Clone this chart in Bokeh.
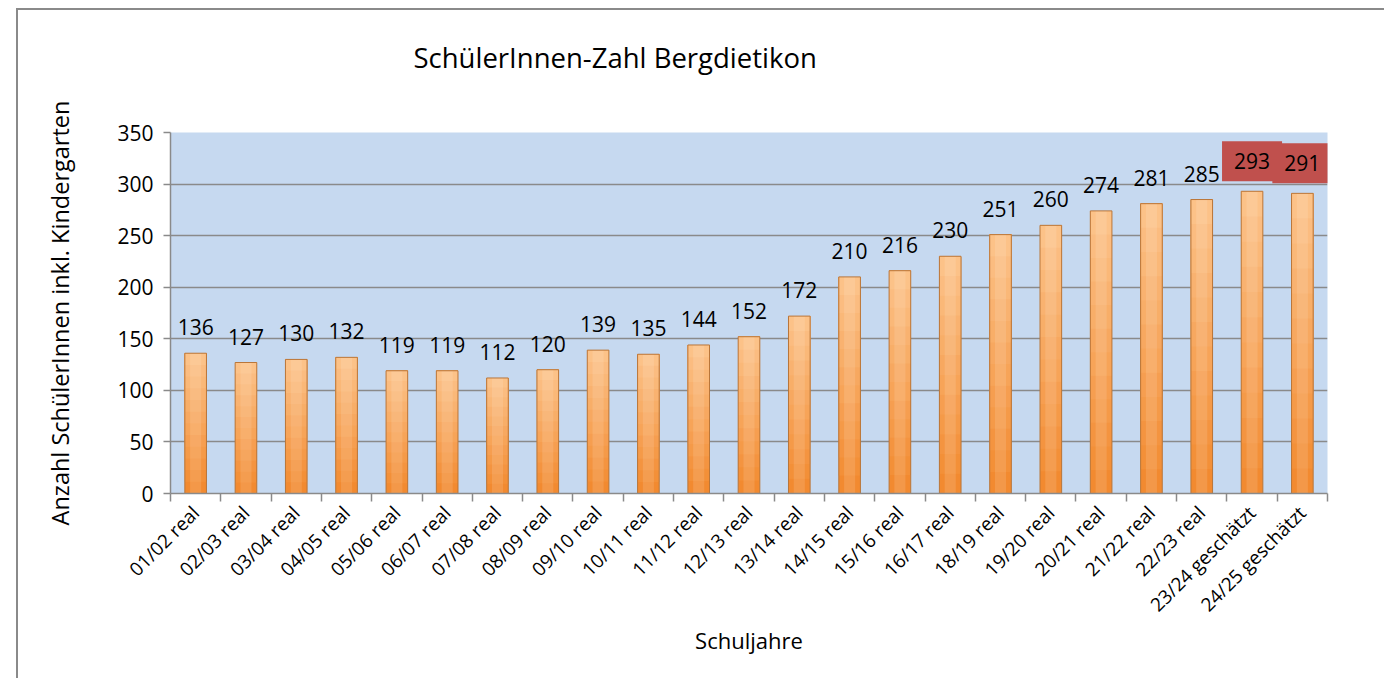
import numpy as np
from bokeh.plotting import figure
from bokeh.models import (ColumnDataSource, Range1d, FixedTicker, LabelSet, Label, Title)
from bokeh.core.properties import value
from bokeh.embed import file_html
from bokeh.resources import INLINE

years = ["01/02 real", "02/03 real", "03/04 real", "04/05 real", "05/06 real",
         "06/07 real", "07/08 real", "08/09 real", "09/10 real", "10/11 real",
         "11/12 real", "12/13 real", "13/14 real", "14/15 real", "15/16 real",
         "16/17 real", "18/19 real", "19/20 real", "20/21 real", "21/22 real",
         "22/23 real", "23/24 geschätzt", "24/25 geschätzt"]
students = [136, 127, 130, 132, 119, 119, 112, 120, 139, 135, 144, 152, 172,
            210, 216, 230, 251, 260, 274, 281, 285, 293, 291]
estimated = [False] * 21 + [True, True]
y_ticks = [0, 50, 100, 150, 200, 250, 300, 350]

FONT = "Open Sans"
GRAY = "#8a8a8a"

n = len(years)
xpos = np.arange(n) + 0.5
vals = np.array(students, dtype=float)

p = figure(width=1368, height=670, output_backend="svg", toolbar_location=None,
           x_range=Range1d(0, n), y_range=Range1d(0, 350),
           min_border_left=152, min_border_right=59, min_border_top=122,
           min_border_bottom=187)
p.styles = {"margin-left": "18px", "margin-top": "10px",
            "box-shadow": "-2px -2px 0 0 #8a8a8a"}
p.background_fill_color = "#c6d9f0"
p.border_fill_color = "white"
p.outline_line_color = None

# spacer between frame and title (keeps the title higher up)
p.add_layout(Title(text=" ", text_font_size="10px", standoff=13), "above")

# title
p.title.text = "SchülerInnen-Zahl Bergdietikon"
p.title.text_font = FONT
p.title.text_font_size = "27.5px"
p.title.text_font_style = "normal"
p.title.text_color = "black"
p.title.align = "left"
p.title.vertical_align = "top"
p.title.offset = 243
p.title.standoff = 57

# bars with vertical gradient (overlapping layers to avoid seams)
top_c = np.array([0xfc, 0xc4, 0x8c])
bot_c = np.array([0xf2, 0x88, 0x2c])
nseg = 12
for k in range(nseg):
    t = (k + 0.5) / nseg
    c = bot_c + (top_c - bot_c) * t
    col = "#%02x%02x%02x" % tuple(int(round(v)) for v in c)
    p.vbar(x=xpos, bottom=vals * k / nseg, top=vals,
           width=0.43, fill_color=col, line_color=None)
p.vbar(x=xpos, bottom=0, top=vals, width=0.22, fill_color="#ffffff",
       fill_alpha=0.12, line_color=None)
p.vbar(x=xpos, bottom=0, top=vals, width=0.43, fill_color=None,
       line_color="#b9763a", line_width=1)

# data labels
real_src = ColumnDataSource(dict(x=[x for x, e in zip(xpos, estimated) if not e],
                                 y=[v for v, e in zip(students, estimated) if not e],
                                 t=[str(v) for v, e in zip(students, estimated) if not e]))
p.add_layout(LabelSet(x="x", y="y", text="t", source=real_src,
                      text_align="center", text_baseline="alphabetic",
                      y_offset=18, text_font=value(FONT), text_font_size=value("21px"),
                      text_color="black"))
for x, v, e in zip(xpos, students, estimated):
    if e:
        p.add_layout(Label(x=x, y=v, text=str(v), text_align="center",
                           text_baseline="alphabetic", y_offset=30,
                           text_font=FONT, text_font_size="21px",
                           text_color="black", background_fill_color="#c0504d",
                           padding=12))

# axes
p.xgrid.grid_line_color = None
p.ygrid.grid_line_color = GRAY
p.ygrid.grid_line_width = 1.5
p.ygrid.ticker = FixedTicker(ticks=y_ticks)

p.yaxis.ticker = FixedTicker(ticks=y_ticks)
p.yaxis.axis_label = "Anzahl SchülerInnen inkl. Kindergarten"
p.yaxis.axis_label_text_font = FONT
p.yaxis.axis_label_text_font_size = "23.5px"
p.yaxis.axis_label_text_font_style = "normal"
p.yaxis.axis_label_text_color = "black"
p.yaxis.axis_label_standoff = 38
p.yaxis.major_label_text_font = FONT
p.yaxis.major_label_text_font_size = "21px"
p.yaxis.major_label_text_color = "black"
p.yaxis.major_label_standoff = 10
p.yaxis.axis_line_color = GRAY
p.yaxis.axis_line_width = 1.5
p.yaxis.major_tick_line_color = GRAY
p.yaxis.major_tick_line_width = 1.5
p.yaxis.major_tick_out = 7
p.yaxis.major_tick_in = 0
p.yaxis.minor_tick_line_color = None

p.xaxis.ticker = FixedTicker(ticks=list(xpos), minor_ticks=list(range(n + 1)))
p.xaxis.major_label_overrides = {float(x): lab for x, lab in zip(xpos, years)}
p.xaxis.major_label_orientation = np.pi / 4
p.xaxis.major_label_text_font = FONT
p.xaxis.major_label_text_font_size = "19px"
p.xaxis.major_label_text_color = "black"
p.xaxis.major_label_standoff = 8
p.xaxis.major_tick_line_color = None
p.xaxis.minor_tick_line_color = GRAY
p.xaxis.minor_tick_line_width = 1.5
p.xaxis.minor_tick_out = 8
p.xaxis.minor_tick_in = 0
p.xaxis.axis_line_color = GRAY
p.xaxis.axis_line_width = 1.5
p.xaxis.axis_label = "Schuljahre"
p.xaxis.axis_label_text_font = FONT
p.xaxis.axis_label_text_font_size = "22px"
p.xaxis.axis_label_text_font_style = "normal"
p.xaxis.axis_label_text_color = "black"
p.xaxis.axis_label_standoff = -4

open("out.html", "w").write(file_html(p, INLINE))
